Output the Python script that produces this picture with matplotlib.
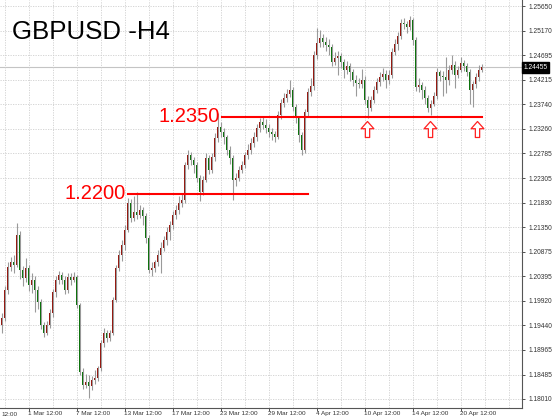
import matplotlib
matplotlib.use('Agg')
import matplotlib.pyplot as plt
import matplotlib.transforms as mtransforms
from matplotlib.path import Path
import numpy as np

# H4 candles (open = previous close)
first_open = 1.1945
close = [1.1959, 1.2013, 1.2058, 1.2067, 1.2062, 1.2120, 1.2052, 1.2036, 1.2056, 1.2023,
         1.2032, 1.2013, 1.1990, 1.1945, 1.1929, 1.1945, 1.1968, 1.2009, 1.2032, 1.2042,
         1.2032, 1.2013, 1.2038, 1.2032, 1.2038, 1.1984, 1.1854, 1.1828, 1.1834, 1.1826,
         1.1838, 1.1842, 1.1861, 1.1910, 1.1929, 1.1920, 1.1929, 1.1994, 1.2056, 1.2081,
         1.2100, 1.2130, 1.2182, 1.2153, 1.2165, 1.2159, 1.2168, 1.2157, 1.2114, 1.2052,
         1.2056, 1.2067, 1.2081, 1.2095, 1.2110, 1.2126, 1.2139, 1.2159, 1.2168, 1.2182,
         1.2188, 1.2256, 1.2275, 1.2266, 1.2256, 1.2231, 1.2203, 1.2227, 1.2270, 1.2246,
         1.2271, 1.2308, 1.2330, 1.2320, 1.2310, 1.2285, 1.2270, 1.2227, 1.2231, 1.2246,
         1.2256, 1.2275, 1.2285, 1.2299, 1.2310, 1.2328, 1.2340, 1.2334, 1.2328, 1.2320,
         1.2316, 1.2310, 1.2353, 1.2376, 1.2386, 1.2394, 1.2402, 1.2369, 1.2347, 1.2314,
         1.2285, 1.2359, 1.2398, 1.2410, 1.2470, 1.2493, 1.2503, 1.2495, 1.2489, 1.2485,
         1.2456, 1.2464, 1.2468, 1.2456, 1.2441, 1.2448, 1.2437, 1.2421, 1.2415, 1.2413,
         1.2421, 1.2382, 1.2367, 1.2382, 1.2402, 1.2417, 1.2427, 1.2433, 1.2421, 1.2431,
         1.2476, 1.2491, 1.2507, 1.2532, 1.2530, 1.2524, 1.2538, 1.2499, 1.2408, 1.2411,
         1.2402, 1.2386, 1.2367, 1.2375, 1.2390, 1.2437, 1.2429, 1.2427, 1.2421, 1.2441,
         1.2450, 1.2431, 1.2441, 1.2454, 1.2448, 1.2437, 1.2402, 1.2413, 1.2427, 1.2441,
         1.24455]
high = [1.1968, 1.2020, 1.2068, 1.2078, 1.2080, 1.2143, 1.2128, 1.2060, 1.2075, 1.2062,
        1.2045, 1.2040, 1.2020, 1.1996, 1.1950, 1.1952, 1.1975, 1.2015, 1.2040, 1.2050,
        1.2048, 1.2040, 1.2046, 1.2045, 1.2048, 1.2042, 1.1988, 1.1862, 1.1850, 1.1848,
        1.1845, 1.1858, 1.1866, 1.1915, 1.1940, 1.1935, 1.1936, 1.2000, 1.2062, 1.2090,
        1.2110, 1.2140, 1.2192, 1.2190, 1.2196, 1.2203, 1.2178, 1.2175, 1.2162, 1.2120,
        1.2068, 1.2072, 1.2090, 1.2106, 1.2118, 1.2135, 1.2148, 1.2166, 1.2178, 1.2195,
        1.2200, 1.2262, 1.2285, 1.2282, 1.2272, 1.2262, 1.2236, 1.2235, 1.2280, 1.2276,
        1.2280, 1.2318, 1.2357, 1.2340, 1.2328, 1.2315, 1.2292, 1.2275, 1.2240, 1.2254,
        1.2264, 1.2282, 1.2296, 1.2308, 1.2320, 1.2336, 1.2348, 1.2350, 1.2345, 1.2336,
        1.2328, 1.2322, 1.2360, 1.2385, 1.2395, 1.2404, 1.2421, 1.2408, 1.2375, 1.2352,
        1.2320, 1.2365, 1.2405, 1.2425, 1.2478, 1.2522, 1.2518, 1.2510, 1.2505, 1.2500,
        1.2492, 1.2476, 1.2478, 1.2474, 1.2462, 1.2458, 1.2455, 1.2442, 1.2430, 1.2426,
        1.2442, 1.2428, 1.2390, 1.2390, 1.2410, 1.2425, 1.2436, 1.2445, 1.2440, 1.2440,
        1.2484, 1.2500, 1.2515, 1.2540, 1.2542, 1.2536, 1.2546, 1.2542, 1.2505, 1.2425,
        1.2418, 1.2410, 1.2392, 1.2382, 1.2398, 1.2445, 1.2440, 1.2438, 1.2465, 1.2450,
        1.2470, 1.2458, 1.2448, 1.2466, 1.2460, 1.2455, 1.2442, 1.2420, 1.2435, 1.2450,
        1.2452]
low = [1.1930, 1.1952, 1.2005, 1.2050, 1.2045, 1.2058, 1.2035, 1.2020, 1.2028, 1.2010,
       1.2008, 1.1970, 1.1975, 1.1938, 1.1922, 1.1925, 1.1940, 1.1960, 1.2000, 1.2025,
       1.2024, 1.2005, 1.2008, 1.2022, 1.2028, 1.1978, 1.1848, 1.1820, 1.1822, 1.1803,
       1.1818, 1.1830, 1.1836, 1.1855, 1.1903, 1.1912, 1.1914, 1.1925, 1.1990, 1.2050,
       1.2070, 1.2090, 1.2125, 1.2145, 1.2148, 1.2150, 1.2152, 1.2140, 1.2105, 1.2045,
       1.2040, 1.2048, 1.2060, 1.2045, 1.2088, 1.2100, 1.2110, 1.2132, 1.2150, 1.2160,
       1.2175, 1.2182, 1.2248, 1.2255, 1.2240, 1.2222, 1.2185, 1.2198, 1.2222, 1.2238,
       1.2240, 1.2264, 1.2300, 1.2310, 1.2296, 1.2276, 1.2258, 1.2188, 1.2215, 1.2224,
       1.2240, 1.2250, 1.2268, 1.2278, 1.2290, 1.2302, 1.2320, 1.2326, 1.2318, 1.2310,
       1.2305, 1.2300, 1.2306, 1.2345, 1.2368, 1.2378, 1.2388, 1.2360, 1.2338, 1.2300,
       1.2275, 1.2280, 1.2352, 1.2390, 1.2402, 1.2462, 1.2485, 1.2486, 1.2478, 1.2470,
       1.2448, 1.2450, 1.2430, 1.2445, 1.2425, 1.2432, 1.2420, 1.2410, 1.2390, 1.2405,
       1.2406, 1.2375, 1.2347, 1.2360, 1.2376, 1.2396, 1.2410, 1.2420, 1.2405, 1.2414,
       1.2425, 1.2470, 1.2480, 1.2500, 1.2520, 1.2512, 1.2518, 1.2490, 1.2400, 1.2398,
       1.2385, 1.2375, 1.2358, 1.2353, 1.2370, 1.2385, 1.2420, 1.2390, 1.2395, 1.2412,
       1.2432, 1.2405, 1.2425, 1.2436, 1.2438, 1.2428, 1.2375, 1.2368, 1.2405, 1.2420,
       1.2436]
opn = [first_open] + close[:-1]

last_price = 1.24455
price_ticks = [1.25650, 1.25170, 1.24695, 1.24215, 1.23740, 1.23260, 1.22785, 1.22305,
               1.21830, 1.21350, 1.20875, 1.20395, 1.19920, 1.19440, 1.18965, 1.18485, 1.18010]
date_labels = ["1 Mar 12:00", "7 Mar 12:00", "13 Mar 12:00", "17 Mar 12:00", "23 Mar 12:00",
               "29 Mar 12:00", "4 Apr 12:00", "10 Apr 12:00", "14 Apr 12:00", "20 Apr 12:00"]
date_bars = [9, 25, 41, 57, 73, 89, 105, 121, 137, 153]

# support levels: (price, first bar, last bar)
levels = [(1.2200, 42, 102), (1.2350, 73.5, 160.2)]
arrow_bars = [121.8, 142.8, 158.5]
arrow_price = 1.2325

bull_col = '#951a12'
bear_col = '#0d720d'
wick_col = '#9a9a9a'
grid_col = '#cfcfcf'

fig = plt.figure(figsize=(5.54, 4.19), dpi=100)
ax = fig.add_axes([0, 11/419, 522/554, 408/419])

x = np.arange(len(close))
o = np.array(opn); c = np.array(close); h = np.array(high); l = np.array(low)

ax.vlines(x, l, h, color=wick_col, lw=0.8, zorder=3)
up = c >= o
bottom = np.minimum(o, c)
height = np.maximum(np.abs(c - o), 0.00006)
ax.bar(x, height, bottom=bottom, width=0.66, color=np.where(up, bull_col, bear_col),
       linewidth=0, zorder=4)

ax.set_xlim(-0.5, 173.5)
ax.set_ylim(1.17835, 1.25767)

# grid
ax.set_yticks(price_ticks)
ax.set_yticklabels(['%.5f' % p for p in price_ticks])
ax.set_xticks(date_bars)
ax.set_xticklabels(date_labels)
ax.set_xticks(np.arange(1, 174, 8), minor=True)
ax.grid(True, which='both', axis='x', color=grid_col, lw=0.6, ls=(0, (1.5, 1.5)), zorder=0)
ax.grid(True, which='major', axis='y', color=grid_col, lw=0.6, ls=(0, (1.5, 1.5)), zorder=0)
ax.tick_params(axis='x', which='minor', length=0)

ax.yaxis.tick_right()
ax.tick_params(axis='y', length=2.5, width=0.6, pad=2, labelsize=4.8, colors='#333333')
ax.tick_params(axis='x', which='major', length=2, width=0.6, pad=0.5, labelsize=4.6,
               colors='#333333')
for lbl in ax.get_xticklabels():
    lbl.set_ha('left')
    lbl.set_fontfamily('Liberation Sans')
for lbl in ax.get_yticklabels():
    lbl.set_fontfamily('Liberation Sans')

for side in ['left', 'top']:
    ax.spines[side].set_visible(False)
for side in ['right', 'bottom']:
    ax.spines[side].set_color('#555555')
    ax.spines[side].set_linewidth(0.8)

# partial label at the left edge
ax.text(0.002, -0.009, '12:00', transform=ax.transAxes, fontsize=4.6, color='#333333',
        family='Liberation Sans', va='top', ha='left')

# current price line and label
ax.axhline(last_price, color='#c4c4c4', lw=0.8, zorder=1)
trans = mtransforms.blended_transform_factory(ax.transAxes, ax.transData)
ax.text(1.003, last_price, '%.5f' % last_price, transform=trans, fontsize=4.8, color='white',
        family='Liberation Sans', va='center', ha='left', clip_on=False,
        bbox=dict(boxstyle='square,pad=0.25', fc='black', ec='black'))

# support lines with labels
for price, b0, b1 in levels:
    ax.plot([b0, b1], [price, price], color='#ff0000', lw=1.5, zorder=5)
    ax.annotate('%.4f' % price, xy=(b0, price), xytext=(-1.5, 0), textcoords='offset points',
                ha='right', va='center', color='#ff0000', fontsize=14.5,
                family='Liberation Sans', zorder=6)

# hollow up arrows
arrow = Path([(0, 1), (0.8, 0.1), (0.27, 0.1), (0.27, -1), (-0.27, -1), (-0.27, 0.1),
              (-0.8, 0.1), (0, 1)],
             [Path.MOVETO] + [Path.LINETO] * 6 + [Path.CLOSEPOLY])
ax.plot(arrow_bars, [arrow_price] * len(arrow_bars), ls='none', marker=arrow, ms=11.5,
        mfc='white', mec='#ff2020', mew=0.9, zorder=6)

fig.text(12/554, 1 - 31.5/419, 'GBPUSD -H4', fontsize=18.6, family='Liberation Sans',
         va='center', ha='left', color='black')

fig.savefig('out.png', dpi=100, facecolor='white')
